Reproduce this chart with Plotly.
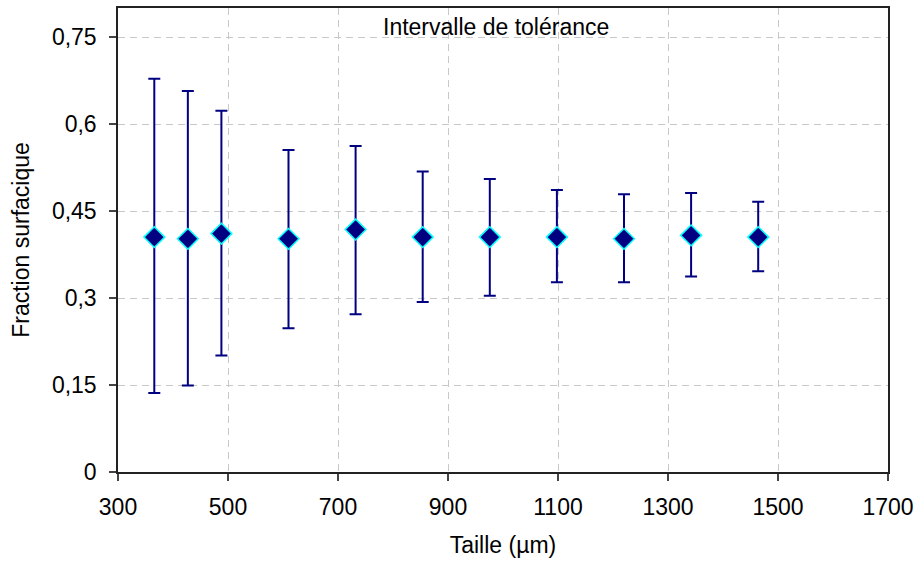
import plotly.graph_objects as go

# Particle size classes (µm) and measured surface fraction with tolerance interval
taille = [366, 427, 488, 610, 732, 854, 976, 1098, 1220, 1342, 1464]
fraction = [0.405, 0.402, 0.411, 0.402, 0.418, 0.405, 0.405, 0.405, 0.402, 0.408, 0.405]
borne_sup = [0.678, 0.657, 0.623, 0.555, 0.562, 0.518, 0.505, 0.486, 0.479, 0.481, 0.466]
borne_inf = [0.136, 0.149, 0.201, 0.248, 0.272, 0.293, 0.304, 0.327, 0.327, 0.337, 0.346]

x_ticks = [300, 500, 700, 900, 1100, 1300, 1500, 1700]
y_ticks = [0, 0.15, 0.3, 0.45, 0.6, 0.75]
y_labels = ["0", "0,15", "0,3", "0,45", "0,6", "0,75"]

err_plus = [s - m for s, m in zip(borne_sup, fraction)]
err_minus = [m - i for m, i in zip(fraction, borne_inf)]

FONT = "Liberation Sans, Arial, sans-serif"
NAVY = "#000080"
FS = 23

fig = go.Figure()
fig.add_trace(go.Scatter(
    x=taille,
    y=fraction,
    mode="markers",
    marker=dict(symbol="diamond", size=16, color=NAVY,
                line=dict(color="#00FFFF", width=1.5)),
    error_y=dict(type="data", symmetric=False, array=err_plus,
                 arrayminus=err_minus, color=NAVY, thickness=2, width=6),
    showlegend=False,
    hoverinfo="x+y",
))

fig.add_annotation(
    text="Intervalle de tolérance",
    xref="paper", yref="paper", x=0.491, y=0.958,
    xanchor="center", yanchor="middle", showarrow=False,
    font=dict(family=FONT, size=FS, color="#000"),
)

axis_common = dict(
    showline=True, linecolor="#222", linewidth=1.5, mirror=True,
    ticks="outside", ticklen=7, tickcolor="#444", tickwidth=1.5,
    showgrid=True, gridcolor="#C8C8C8", gridwidth=1, griddash="7px,5px",
    zeroline=False,
    tickfont=dict(family=FONT, size=FS, color="#000"),
)

fig.update_xaxes(
    range=[300, 1700], tickvals=x_ticks,
    title=dict(text="Taille (µm)", font=dict(family=FONT, size=FS, color="#000"),
               standoff=18),
    ticklabelstandoff=7,
    **axis_common,
)
fig.update_yaxes(
    range=[0, 0.8], tickvals=y_ticks, ticktext=y_labels,
    title=dict(text="Fraction surfacique", font=dict(family=FONT, size=FS, color="#000"),
               standoff=16),
    ticklabelstandoff=8,
    **axis_common,
)

fig.update_layout(
    width=920, height=563,
    margin=dict(l=118, r=31, t=6, b=91),
    paper_bgcolor="white", plot_bgcolor="white",
    font=dict(family=FONT, size=FS, color="#000"),
)

fig.write_html("out.html")
